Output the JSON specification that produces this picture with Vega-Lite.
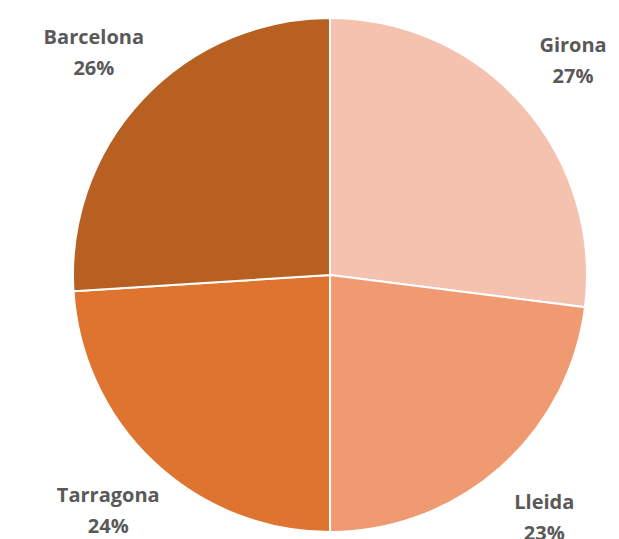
{
  "$schema": "https://vega.github.io/schema/vega-lite/v6.json",
  "width": 578,
  "height": 528,
  "autosize": "none",
  "padding": {"left": 41, "top": 11, "right": 0, "bottom": 0},
  "background": "white",
  "config": {"view": {"stroke": null}},
  "data": {
    "values": [
      {"region": "Girona", "share": 27, "order": 1, "label": "Girona\n27%"},
      {"region": "Lleida", "share": 23, "order": 2, "label": "Lleida\n23%"},
      {"region": "Tarragona", "share": 24, "order": 3, "label": "Tarragona\n24%"},
      {"region": "Barcelona", "share": 26, "order": 4, "label": "Barcelona\n26%"}
    ]
  },
  "encoding": {
    "theta": {"field": "share", "type": "quantitative", "stack": true},
    "order": {"field": "order", "type": "quantitative"}
  },
  "layer": [
    {
      "mark": {"type": "arc", "outerRadius": 257, "stroke": "white", "strokeWidth": 2},
      "encoding": {
        "color": {
          "field": "region",
          "type": "nominal",
          "scale": {
            "domain": ["Girona", "Lleida", "Tarragona", "Barcelona"],
            "range": ["#F4C2AE", "#EF9A70", "#DE7430", "#B85F22"]
          },
          "legend": null
        }
      }
    },
    {
      "mark": {
        "type": "text",
        "radius": 324,
        "font": "Open Sans",
        "fontWeight": "bold",
        "fontSize": 20,
        "lineBreak": "\n",
        "lineHeight": 31,
        "color": "#595959",
        "align": "center",
        "baseline": "middle",
        "dy": -15
      },
      "encoding": {
        "text": {"field": "label", "type": "nominal"}
      }
    }
  ]
}
